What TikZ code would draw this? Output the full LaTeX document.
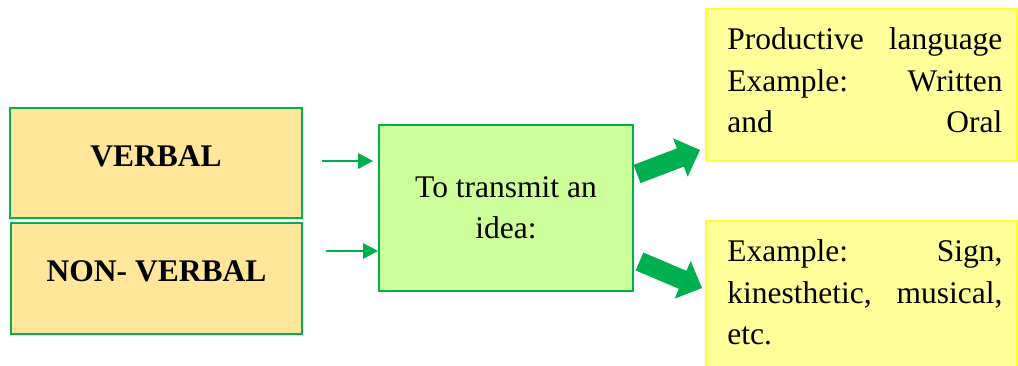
\documentclass[tikz,border=0pt]{standalone}
\usepackage{fontspec}
\setmainfont{Liberation Serif}
\usetikzlibrary{calc}
\definecolor{grn}{HTML}{00B050}
\definecolor{orfill}{HTML}{FFE699}
\definecolor{lgfill}{HTML}{CCFF99}
\definecolor{ylfill}{HTML}{FFFF99}
\definecolor{ylline}{HTML}{FFFF33}
\tikzset{
  txt/.style={font=\fontsize{31.5}{41.5}\selectfont},
  catbox/.style={draw=grn, line width=1.5pt, fill=orfill, txt, font=\fontsize{31.5}{41.5}\selectfont\bfseries, text depth=14pt},
  midbox/.style={draw=grn, line width=1.5pt, fill=lgfill, txt, align=center, minimum width=254pt, minimum height=166pt},
  exbox/.style={draw=ylline, line width=1.5pt, fill=ylfill, minimum width=311pt},
  extext/.style={txt, anchor=north west, inner sep=0pt, align=left},
  thinline/.style={draw=grn, line width=2.3pt},
  greenfill/.style={fill=grn}
}
\newcommand{\thinarr}[2]{%
  \draw[thinline] (#1) -- ($(#2)+(-13,0)$);
  \fill[greenfill] (#2) -- ++(-15,-8) -- ++(0,16) -- cycle;}
\newcommand{\bigarr}[3]{% start, tip, head base
  \coordinate (#3) at ($(#2)!21pt!(#1)$);
  \fill[greenfill] ($(#1)!9.75pt!90:(#2)$) -- ($(#3)!9.75pt!-90:(#1)$)
     -- ($(#3)!20.5pt!-90:(#1)$) -- (#2) -- ($(#3)!20.5pt!90:(#1)$)
     -- ($(#3)!9.75pt!90:(#1)$) -- ($(#1)!9.75pt!-90:(#2)$) -- cycle;}
\begin{document}
\begin{tikzpicture}[x=1pt,y=-1pt]
\useasboundingbox (0,0) rectangle (1018,365);
\fill[white] (0,0) rectangle (1018,365);

\node[catbox, minimum width=292pt, minimum height=110pt] (verbal) at (156,163) {VERBAL};
\node[catbox, minimum width=291pt, minimum height=111pt] (nonverbal) at (156.5,278.5) {NON- VERBAL};

\node[midbox] (idea) at (506,208) {To transmit an\\idea:};

\node[exbox, minimum height=152pt] (prod) at (861.5,85) {};
\node[extext] (prodtxt) at ([shift={(22pt,-19.5pt)}]prod.north west)
  {\hbox to 275pt{Productive\hfill language}\\
   \hbox to 275pt{Example:\hfill Written}\\
   \hbox to 275pt{and\hfill Oral}};

\node[exbox, minimum height=164pt] (sign) at (861.5,303) {};
\node[extext] (signtxt) at ([shift={(22pt,-19.5pt)}]sign.north west)
  {\hbox to 275pt{Example:\hfill Sign,}\\
   \hbox to 275pt{kinesthetic,\hfill musical,}\\
   \hbox to 275pt{etc.\hfill}};

\coordinate (a1s) at (322,161);
\coordinate (a1e) at (373,161);
\coordinate (a2s) at (326,251);
\coordinate (a2e) at (378,251);
\thinarr{a1s}{a1e}
\thinarr{a2s}{a2e}

\coordinate (b1s) at (637,174);
\coordinate (b1e) at (700,150);
\coordinate (b2s) at (639.5,261.5);
\coordinate (b2e) at (702,288);
\bigarr{b1s}{b1e}{b1h}
\bigarr{b2s}{b2e}{b2h}
\end{tikzpicture}
\end{document}
